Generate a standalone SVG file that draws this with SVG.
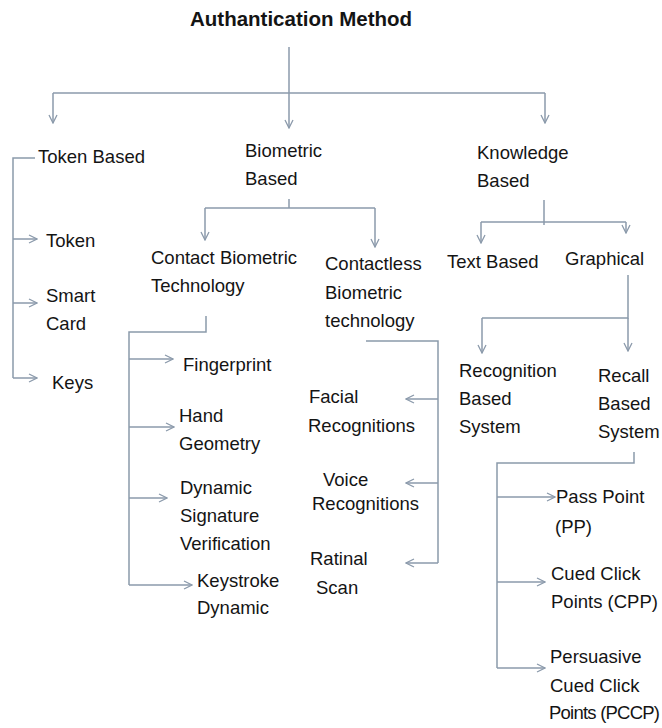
<svg xmlns="http://www.w3.org/2000/svg" width="662" height="728" viewBox="0 0 662 728">
  <style>
    .bg { fill: #ffffff; }
    .ln { fill: none; stroke: #8b9aab; stroke-width: 1.5; }
    .arr { fill: none; stroke: #8b9aab; stroke-width: 1.5; marker-end: url(#chev); }
    text { font-family: "Liberation Sans", Arial, sans-serif; font-size: 18.5px; fill: #141414; }
    .title { font-weight: bold; font-size: 20.5px; }
  </style>
  <defs>
    <marker id="chev" viewBox="0 0 10 10" refX="9" refY="5" markerWidth="10" markerHeight="10" markerUnits="userSpaceOnUse" orient="auto">
      <path d="M1,1 L9,5 L1,9" fill="none" stroke="#8b9aab" stroke-width="1.3"/>
    </marker>
  </defs>
  <rect class="bg" x="0" y="0" width="662" height="728"/>

  <g id="connectors">
    <!-- root fan-out -->
    <path class="arr" d="M289,47 V128"/>
    <path class="ln" d="M53,93 H545"/>
    <path class="arr" d="M53,93 V123"/>
    <path class="arr" d="M545,93 V123"/>

    <!-- token based -->
    <path class="ln" d="M35,158 H13 V378"/>
    <path class="arr" d="M13,239 H37"/>
    <path class="arr" d="M13,303 H37"/>
    <path class="arr" d="M13,378 H37"/>

    <!-- biometric based -->
    <path class="ln" d="M289,199 V208"/>
    <path class="ln" d="M205,208 H375"/>
    <path class="arr" d="M205,208 V240"/>
    <path class="arr" d="M375,208 V247"/>

    <!-- contact biometric -->
    <path class="ln" d="M206,316 V332 H129 V585"/>
    <path class="arr" d="M129,359 H173"/>
    <path class="arr" d="M129,427 H174"/>
    <path class="arr" d="M129,498 H167"/>
    <path class="arr" d="M129,585 H192"/>

    <!-- contactless biometric -->
    <path class="ln" d="M366,341 H438 V563"/>
    <path class="arr" d="M438,399 H406"/>
    <path class="arr" d="M438,483 H406"/>
    <path class="arr" d="M438,563 H406"/>

    <!-- knowledge based -->
    <path class="ln" d="M544,200 V225"/>
    <path class="ln" d="M481,222 H626"/>
    <path class="arr" d="M481,222 V243"/>
    <path class="arr" d="M626,222 V233"/>

    <!-- graphical -->
    <path class="ln" d="M628,275 V318 H482"/>
    <path class="arr" d="M482,318 V353"/>
    <path class="arr" d="M628,318 V351"/>

    <!-- recall based -->
    <path class="ln" d="M634,452 V463 H497 V668"/>
    <path class="arr" d="M497,497 H555"/>
    <path class="arr" d="M497,582 H545"/>
    <path class="arr" d="M497,668 H545"/>
  </g>

  <g id="root"><text class="title" x="190" y="26">Authantication Method</text></g>

  <g id="token-based"><text x="38" y="163">Token Based</text></g>
  <g id="token"><text x="46" y="247">Token</text></g>
  <g id="smart-card"><text x="46" y="302">Smart</text><text x="46" y="330">Card</text></g>
  <g id="keys"><text x="52" y="389">Keys</text></g>

  <g id="biometric-based"><text x="245" y="157">Biometric</text><text x="245" y="185">Based</text></g>
  <g id="contact"><text x="151" y="264">Contact Biometric</text><text x="151" y="292">Technology</text></g>
  <g id="contactless"><text x="325" y="270">Contactless</text><text x="325" y="299">Biometric</text><text x="325" y="327">technology</text></g>

  <g id="fingerprint"><text x="183" y="371">Fingerprint</text></g>
  <g id="hand-geometry"><text x="179" y="422">Hand</text><text x="179" y="450">Geometry</text></g>
  <g id="dynamic-signature"><text x="180" y="494">Dynamic</text><text x="180" y="522">Signature</text><text x="180" y="550">Verification</text></g>
  <g id="keystroke"><text x="197" y="587">Keystroke</text><text x="197" y="614">Dynamic</text></g>

  <g id="facial"><text x="309" y="403">Facial</text><text x="308" y="432">Recognitions</text></g>
  <g id="voice"><text x="323" y="486">Voice</text><text x="312" y="510">Recognitions</text></g>
  <g id="ratinal"><text x="310" y="565">Ratinal</text><text x="316" y="594">Scan</text></g>

  <g id="knowledge-based"><text x="477" y="159">Knowledge</text><text x="477" y="187">Based</text></g>
  <g id="text-based"><text x="447" y="268">Text Based</text></g>
  <g id="graphical"><text x="565" y="265">Graphical</text></g>

  <g id="recognition"><text x="459" y="377">Recognition</text><text x="459" y="405">Based</text><text x="459" y="433">System</text></g>
  <g id="recall"><text x="598" y="382">Recall</text><text x="598" y="410">Based</text><text x="598" y="438">System</text></g>

  <g id="pass-point"><text x="556" y="503">Pass Point</text><text x="555" y="533">(PP)</text></g>
  <g id="cpp"><text x="551" y="580">Cued Click</text><text x="551" y="608">Points (CPP)</text></g>
  <g id="pccp"><text x="550" y="663">Persuasive</text><text x="550" y="692">Cued Click</text><text x="549" y="719" textLength="111" lengthAdjust="spacing">Points (PCCP)</text></g>
</svg>
